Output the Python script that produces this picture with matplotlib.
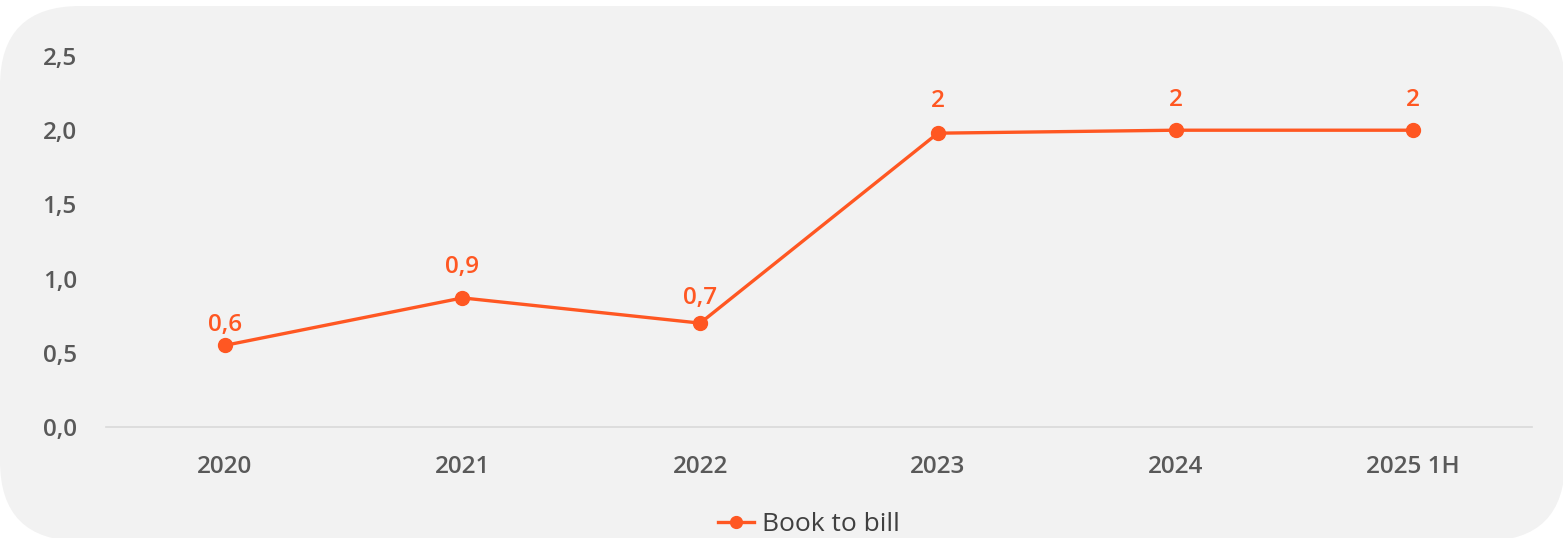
import matplotlib.pyplot as plt
from matplotlib.patches import FancyBboxPatch

# Data
years = ["2020", "2021", "2022", "2023", "2024", "2025 1H"]
book_to_bill = [0.55, 0.87, 0.70, 1.98, 2.00, 2.00]
point_labels = ["0,6", "0,9", "0,7", "2", "2", "2"]
y_ticks = [0.0, 0.5, 1.0, 1.5, 2.0, 2.5]
y_tick_labels = ["0,0", "0,5", "1,0", "1,5", "2,0", "2,5"]

# label offsets above the points, in points
label_offsets = [15, 22, 18, 23, 22, 22]

orange = "#FF5722"
grey_text = "#595959"

plt.rcParams['font.family'] = ['Open Sans', 'DejaVu Sans']

fig = plt.figure(figsize=(15.63, 5.38), dpi=100)
fig.patch.set_facecolor("white")

# Rounded grey card behind the chart
card = FancyBboxPatch((0.0, -0.03), 15.65, 5.35,
                      boxstyle="round,pad=0,rounding_size=0.8",
                      transform=fig.dpi_scale_trans,
                      facecolor="#F2F2F2", edgecolor="none", zorder=-10)
fig.patches.append(card)

ax = fig.add_axes([0.0678, 0.2063, 0.9124, 0.6896])
ax.set_facecolor("none")

x = list(range(len(years)))
ax.plot(x, book_to_bill, color=orange, lw=2.4, marker="o", markersize=10,
        label="Book to bill", clip_on=False)

for xi, yi, lab, off in zip(x, book_to_bill, point_labels, label_offsets):
    ax.annotate(lab, (xi, yi), xytext=(0, off), textcoords="offset points",
                ha="center", va="center", color=orange, fontsize=17.5,
                fontweight="semibold")

ax.set_xlim(-0.5, len(years) - 0.5)
ax.set_ylim(0, 2.5)
ax.set_xticks(x)
ax.set_xticklabels(years)
ax.set_yticks(y_ticks)
ax.set_yticklabels(y_tick_labels)

for s in ["top", "right", "left"]:
    ax.spines[s].set_visible(False)
ax.spines["bottom"].set_color("#D9D9D9")
ax.spines["bottom"].set_linewidth(1.2)

ax.tick_params(axis="both", length=0, labelsize=17.5, labelcolor=grey_text)
ax.tick_params(axis="x", pad=20)
ax.tick_params(axis="y", pad=21)
for t in ax.get_xticklabels() + ax.get_yticklabels():
    t.set_fontweight("semibold")

leg = ax.legend(loc="upper center", bbox_to_anchor=(0.493, -0.165), frameon=False,
                fontsize=19, handlelength=1.35, handletextpad=0.3,
                labelcolor="#404040", markerscale=0.85)

fig.savefig("out.png", dpi=100, facecolor=fig.get_facecolor())
